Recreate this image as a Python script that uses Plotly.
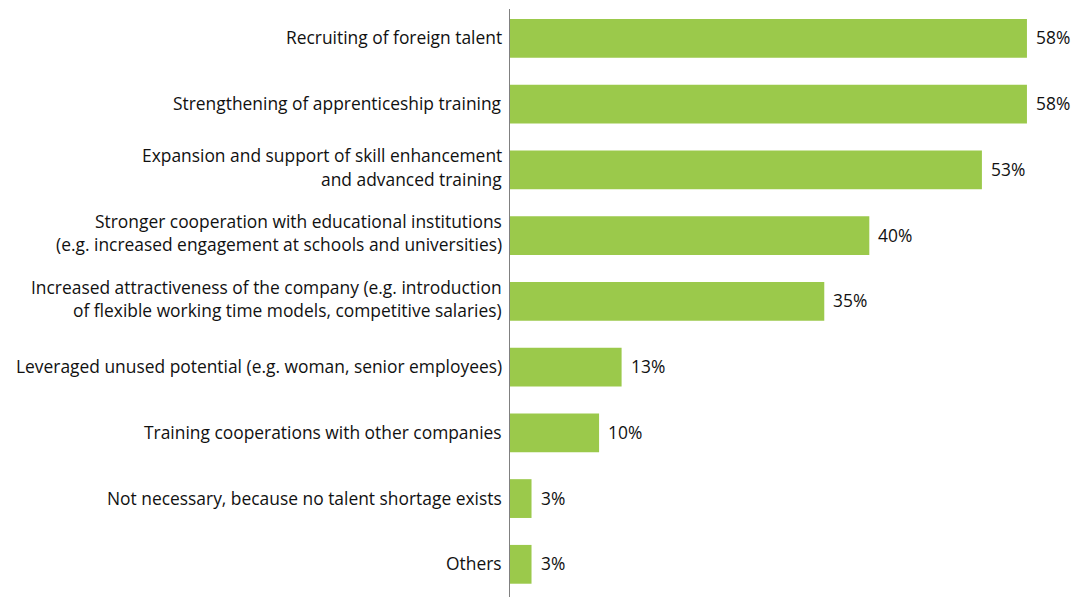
import plotly.graph_objects as go

categories = [
    "Recruiting of foreign talent",
    "Strengthening of apprenticeship training",
    "Expansion and support of skill enhancement\nand advanced training",
    "Stronger cooperation with educational institutions\n(e.g. increased engagement at schools and universities)",
    "Increased attractiveness of the company (e.g. introduction\nof flexible working time models, competitive salaries)",
    "Leveraged unused potential (e.g. woman, senior employees)",
    "Training cooperations with other companies",
    "Not necessary, because no talent shortage exists",
    "Others",
]
values = [57.5, 57.5, 52.5, 40.0, 35.0, 12.5, 10.0, 2.5, 2.5]
value_labels = ["58%", "58%", "53%", "40%", "35%", "13%", "10%", "3%", "3%"]

FONT = "Open Sans"
FSIZE = 17.4
TXT = "#111111"
BAR_COLOR = "#9bc94b"

idx = list(range(len(categories)))

fig = go.Figure(go.Bar(
    x=values, y=idx, orientation="h",
    marker=dict(color=BAR_COLOR, line=dict(width=0)),
    width=0.59, hoverinfo="skip",
))

annotations = []
for i, (cat, v, lab) in enumerate(zip(categories, values, value_labels)):
    annotations.append(dict(x=v, y=i, xref="x", yref="y", text=lab, showarrow=False,
                            xanchor="left", yanchor="middle", xshift=7, yshift=1,
                            font=dict(family=FONT, size=FSIZE, color=TXT)))
    lines = cat.split("\n")
    n = len(lines)
    base = 1 if n == 1 else 3
    for j, line in enumerate(lines):
        off = (j - (n - 1) / 2) * 23.5
        annotations.append(dict(x=0, y=i, xref="x", yref="y", text=line, showarrow=False,
                                xanchor="right", yanchor="middle", xshift=-5,
                                yshift=-off + base,
                                font=dict(family=FONT, size=FSIZE, color=TXT)))

# page body has an 8px margin, so the figure is offset by (8, 8)
fig.update_layout(
    width=1082, height=589,
    margin=dict(l=501, r=0, t=0, b=0),
    paper_bgcolor="white", plot_bgcolor="white",
    showlegend=False,
    xaxis=dict(range=[0, 64.5], visible=False, fixedrange=True),
    yaxis=dict(range=[8.497, -0.461], showticklabels=False,
               showgrid=False, zeroline=False, ticks="", fixedrange=True),
    annotations=annotations,
    shapes=[dict(type="line", xref="x", yref="paper", x0=0, x1=0, y0=0, y1=588 / 589,
                 line=dict(color="#808080", width=2))],
)

fig.write_html("out.html", config={"displayModeBar": False})
